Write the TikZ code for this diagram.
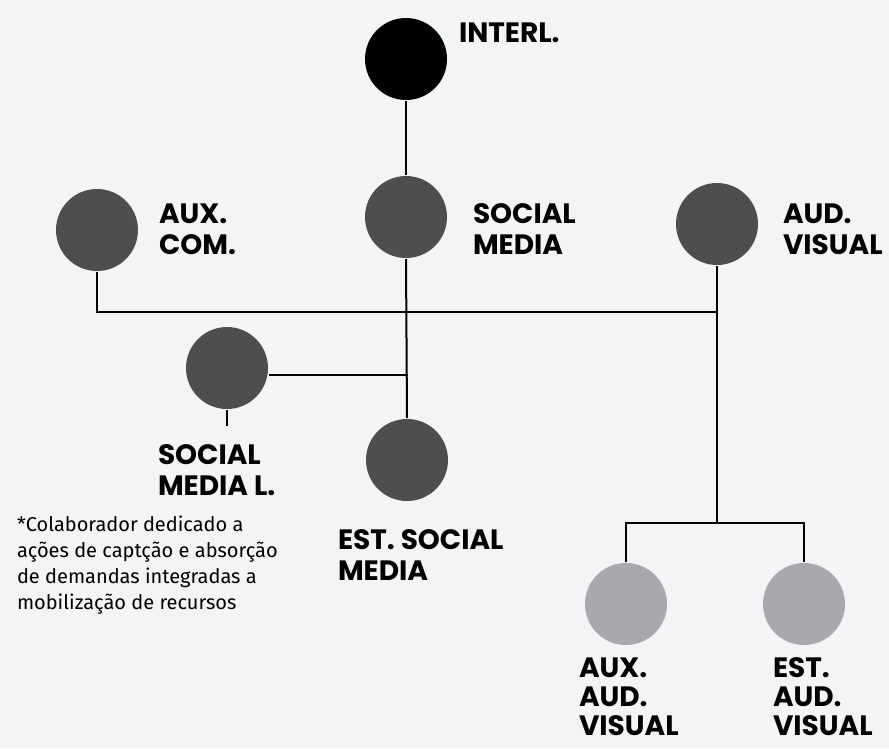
\documentclass[tikz,border=0pt]{standalone}
\usepackage{fontspec}
\usepackage{tikz}
\usetikzlibrary{positioning}
\newfontfamily\rolefont{Poppins}
\newfontfamily\notefont{Fira Sans}
\definecolor{bgpaper}{HTML}{F3F4F5}
\definecolor{darkrole}{HTML}{4D4E50}
\definecolor{lightrole}{HTML}{A7A9AC}

\begin{document}
\begin{tikzpicture}[
		x=1pt,y=-1pt,
		line width=2pt,
		role/.style={circle,minimum size=82pt,inner sep=0pt,fill=darkrole},
		lead/.style={role,fill=black},
		trainee/.style={role,fill=lightrole},
		lbl/.style={anchor=base west,inner sep=0pt,align=left,
			font=\rolefont\bfseries\fontsize{28}{31}\selectfont},
		note/.style={anchor=base west,inner sep=0pt,align=left,
			font=\notefont\fontsize{20}{25.7}\selectfont},
		]
		
		% Background
		\fill[bgpaper] (0,0) rectangle (889,748);
		\useasboundingbox (0,0) rectangle (889,748);
		
		% Top
		\node[lead] (interl) at (406,59) {};
		\node[lbl] at (458,42) {INTERL.};
		
		% Second level (labels sit on their last baseline)
		\node[role] (auxcom) at (97,230) {};
		\node[role] (smedia) at (406,217) {};
		\node[role] (audvis) at (717,224) {};
		\node[lbl] at (158,254) {AUX.\\COM.};
		\node[lbl] at (472,254) {SOCIAL\\MEDIA};
		\node[lbl] at (782,254) {AUD.\\VISUAL};
		
		% Social media team
		\node[role] (smedial) at (227,368) {};
		\node[role] (estsm) at (407,460) {};
		\node[lbl] at (157,495) {SOCIAL\\MEDIA L.};
		\node[lbl] at (337,580) {EST. SOCIAL\\MEDIA};
		
		% Audiovisual team
		\node[trainee] (auxav) at (626,604) {};
		\node[trainee] (estav) at (804,604) {};
		\node[lbl,font=\rolefont\bfseries\fontsize{28}{29}\selectfont] at (578,735) {AUX.\\AUD.\\VISUAL};
		\node[lbl,font=\rolefont\bfseries\fontsize{28}{29}\selectfont] at (772,735) {EST.\\AUD.\\VISUAL};
		
		% Footnote
		\node[note] (footnote) at (16,609)
		{*Colaborador dedicado a\\ações de captção e absorção\\de demandas integradas a\\mobilização de recursos};
		
		% Junctions
		\coordinate (bar) at (406,312);
		\coordinate (tee) at (408,375);
		\coordinate (split) at (717,523);
		
		% Connections
		\draw (interl) -- (smedia);
		\draw (auxcom.south) |- (audvis |- bar);
		\draw (smedia.south) -- (estsm.north);
		\draw (smedial.east |- tee) -- (tee);
		\draw (smedial.south) -- ++(0,16);
		\draw (audvis.south) -- (split);
		\draw (auxav.north) |- (split) -| (estav.north);
		
	\end{tikzpicture}
\end{document}
